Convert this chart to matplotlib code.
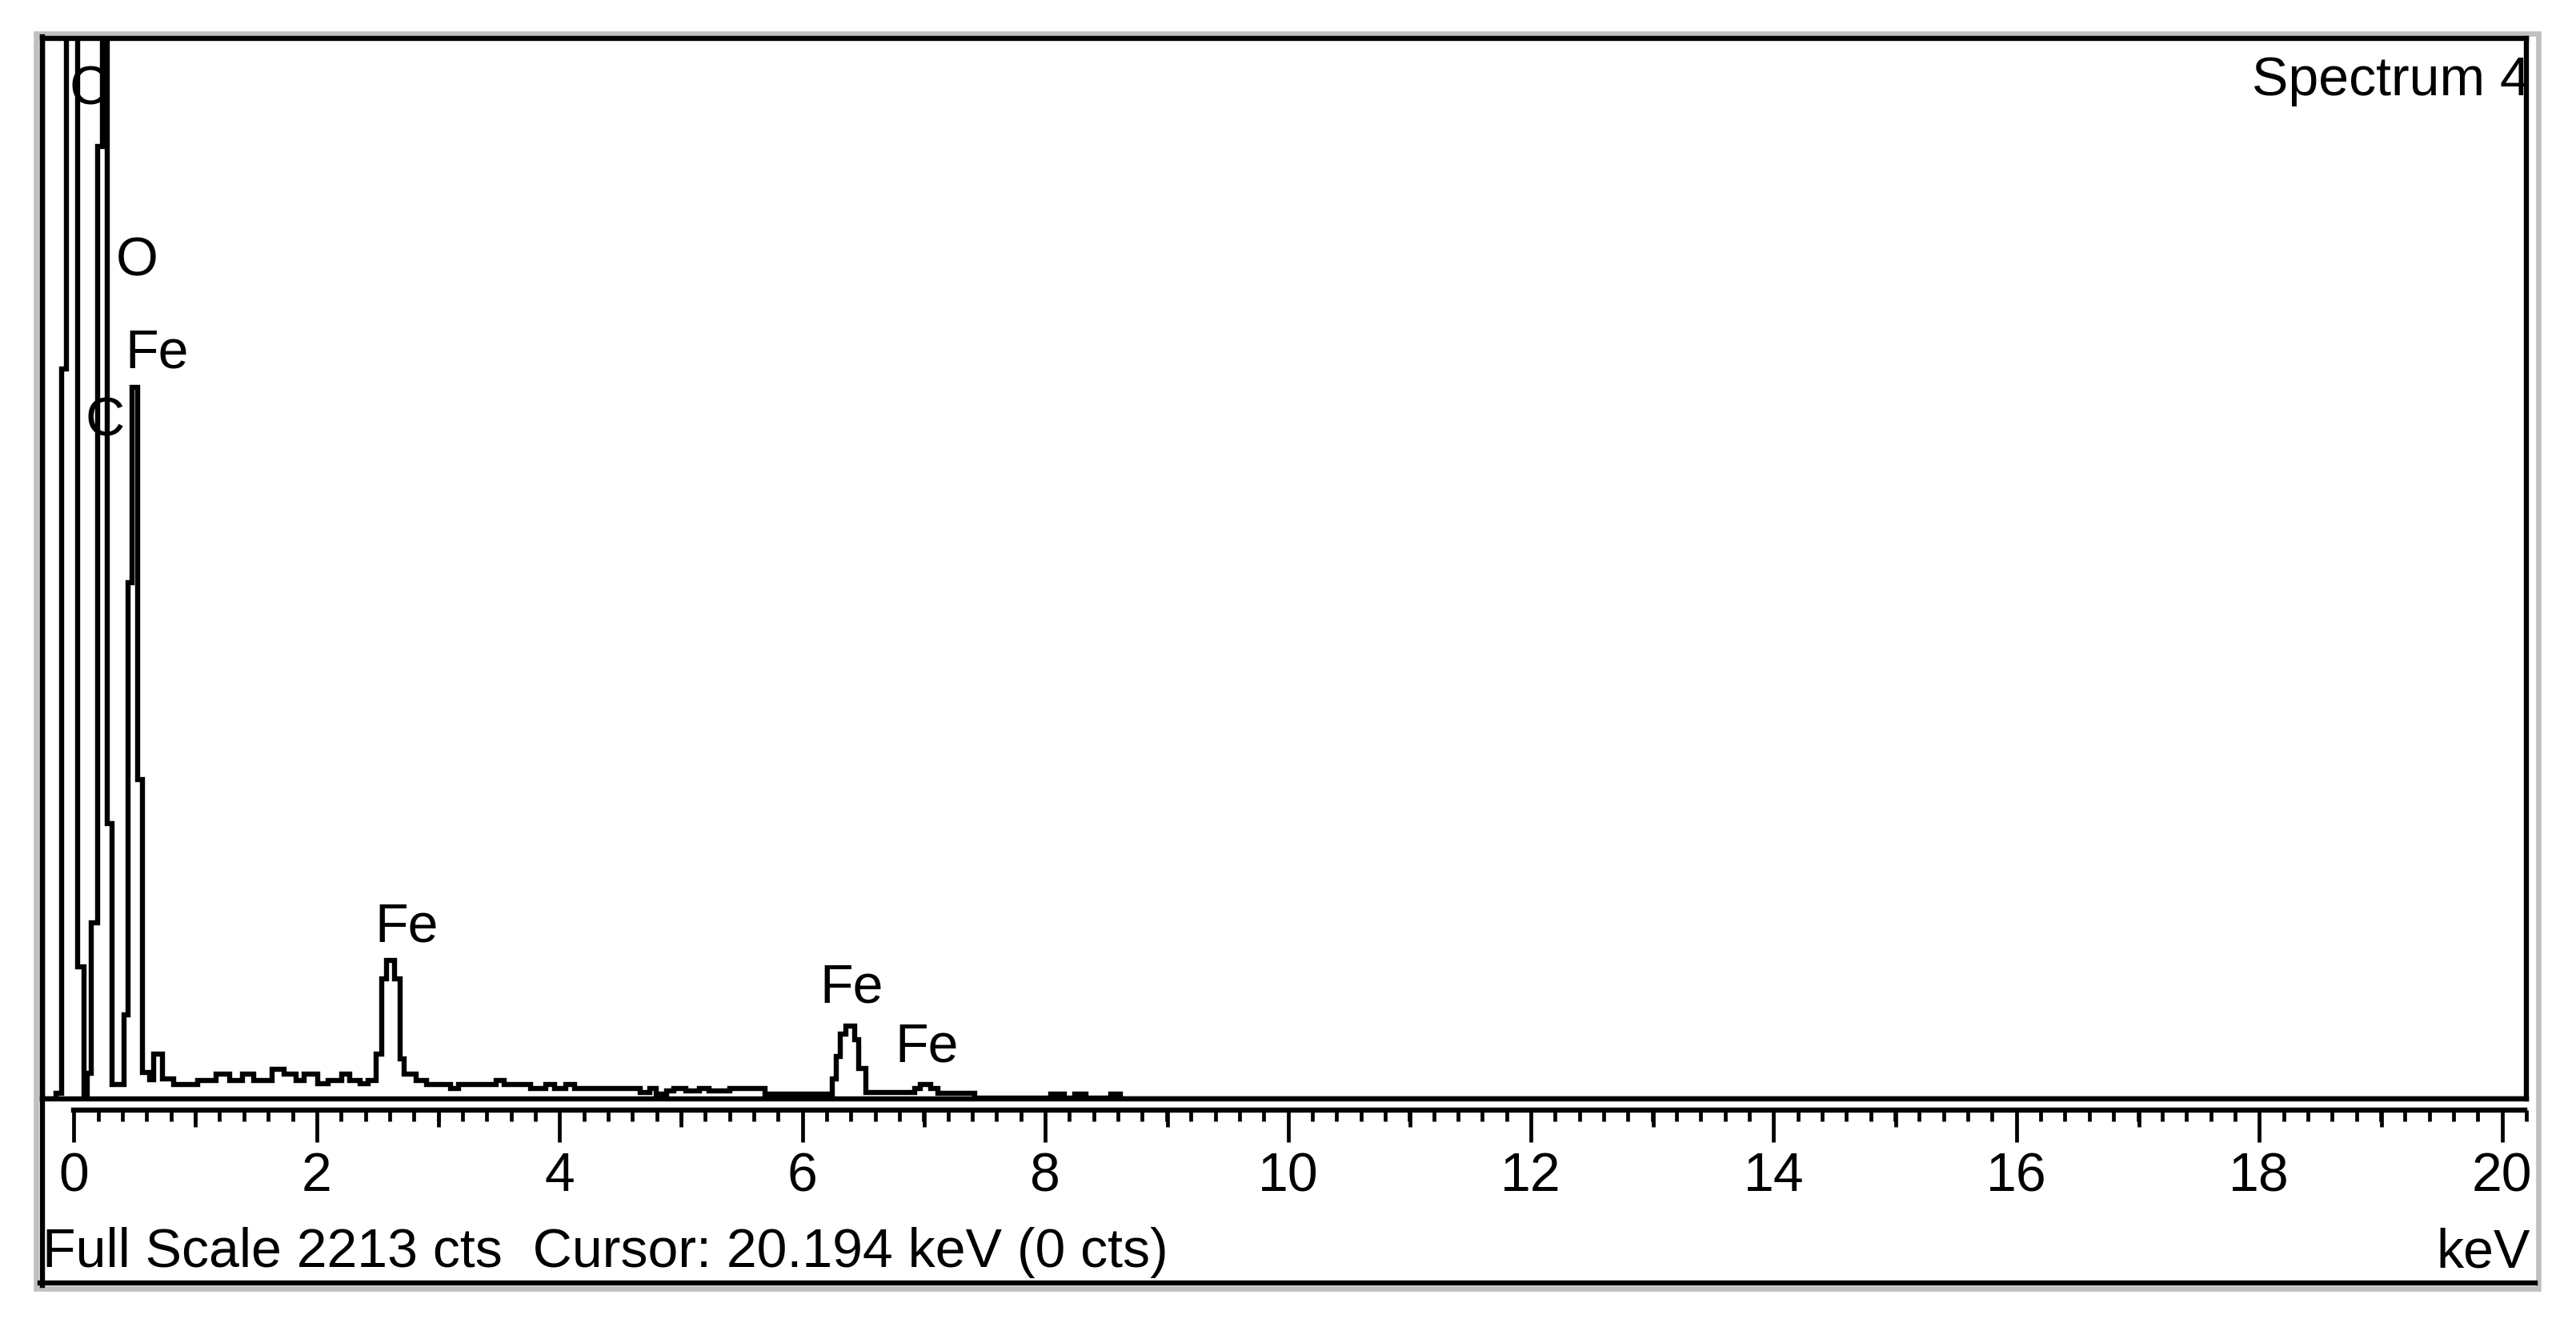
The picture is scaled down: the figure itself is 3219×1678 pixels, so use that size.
import numpy as np
import matplotlib.pyplot as plt
from matplotlib.patches import Rectangle
from matplotlib.lines import Line2D

plt.rcParams['font.family'] = ['Liberation Sans', 'DejaVu Sans']

W, H = 3219, 1678
DPI = 200

# EDS spectrum (keV edges, counts per step)
edges = [-0.26, -0.148, -0.10, -0.061, 0.028, 0.082, 0.11, 0.14, 0.192, 0.236,
         0.274, 0.312, 0.412, 0.445, 0.479, 0.524, 0.565, 0.62, 0.653, 0.73,
         0.818, 1.016, 1.169, 1.279, 1.389, 1.477, 1.630, 1.729, 1.828, 1.894,
         2.004, 2.092, 2.202, 2.267, 2.355, 2.421, 2.487, 2.531, 2.575, 2.640,
         2.685, 2.717, 2.816, 2.904, 3.101, 3.167, 3.475, 3.541, 3.760, 3.881,
         3.958, 4.046, 4.123, 4.661, 4.738, 4.793, 4.880, 4.94, 5.04, 5.15,
         5.23, 5.40, 5.69, 6.242, 6.275, 6.308, 6.352, 6.428, 6.461, 6.517,
         6.92, 6.966, 7.054, 7.109, 7.417, 8.042, 8.152, 8.24, 8.328, 8.536,
         8.613, 20.19]
counts = [0, 12, 1523, 2600, 276, 5, 53, 367, 1987, 2600,
          575, 30, 175, 1077, 1485, 666, 55, 40, 94, 41,
          30, 38, 51, 39, 51, 39, 61, 51, 39, 51,
          32, 39, 51, 39, 32, 39, 94, 250, 289, 250,
          83, 51, 39, 30, 22, 30, 38, 30, 22, 30,
          22, 30, 22, 14, 22, 10, 16, 22, 16, 22,
          16, 22, 10, 42, 88, 135, 152, 124, 63, 14,
          22, 30, 22, 11, 2, 10, 2, 10, 2, 10, 0]

full_scale = 2213
x_min, x_max = -0.26, 20.19

# peak labels: text, left energy (keV), baseline height (counts)
label_text = ['C', 'O', 'Fe', 'C', 'Fe', 'Fe', 'Fe']
label_kev = [-0.04, 0.346, 0.423, 0.093, 2.474, 6.14, 6.756]
label_cts = [2076, 1717, 1526, 1383, 329, 202, 77]

major_ticks = list(range(0, 21, 2))
mid_ticks = list(range(1, 21, 2))
minor_ticks = np.arange(0, 20.21, 0.2)

FS = 24.5
LW = 2.3


def fx(px):
    return px / W


def fy(py):
    return 1 - py / H


fig = plt.figure(figsize=(W / DPI, H / DPI), dpi=DPI)
fig.patch.set_facecolor('white')

# window frame: grey outline and black edge
fig.add_artist(Rectangle((fx(45), fy(1610)), fx(3172) - fx(45), fy(42) - fy(1610),
                         transform=fig.transFigure, fill=False,
                         edgecolor='#c0c0c0', lw=2.4, zorder=0))
fig.add_artist(Line2D([fx(53), fx(53)], [fy(46), fy(1606)], transform=fig.transFigure,
                      color='black', lw=LW, zorder=5))
fig.add_artist(Line2D([fx(50), fx(3168)], [fy(1603), fy(1603)], transform=fig.transFigure,
                      color='black', lw=LW, zorder=5))

# spectrum panel
ax = fig.add_axes([fx(53), fy(1373), fx(3157) - fx(53), fy(48) - fy(1373)])
ax.stairs(counts, edges, color='black', lw=LW, baseline=None)
ax.set_xlim(x_min, x_max)
ax.set_ylim(0, full_scale)
ax.set_xticks([])
ax.set_yticks([])
for s in ax.spines.values():
    s.set_linewidth(LW)

for t, e, c in zip(label_text, label_kev, label_cts):
    ax.text(e, c, t, ha='left', va='baseline', fontsize=FS, color='black')

# energy ruler below the panel
ruler_pos = [fx(53), fy(1387), fx(3157) - fx(53), 0.0001]
ax2 = fig.add_axes(ruler_pos)
ax2.patch.set_visible(False)
for side in ['top', 'left', 'right']:
    ax2.spines[side].set_visible(False)
ax2.spines['bottom'].set_linewidth(LW)
ax2.spines['bottom'].set_bounds(0, x_max)
ax2.set_xlim(x_min, x_max)
ax2.set_yticks([])
ax2.set_xticks(major_ticks)
ax2.set_xticklabels([str(v) for v in major_ticks])
ax2.set_xticks(minor_ticks, minor=True)
ax2.tick_params(axis='x', which='major', length=14.4, width=1.7, direction='out',
                pad=4, labelsize=FS)
ax2.tick_params(axis='x', which='minor', length=5.0, width=1.7, direction='out')

ax3 = fig.add_axes(ruler_pos)
ax3.patch.set_visible(False)
for s in ax3.spines.values():
    s.set_visible(False)
ax3.set_xlim(x_min, x_max)
ax3.set_yticks([])
ax3.set_xticks(mid_ticks)
ax3.set_xticklabels([])
ax3.tick_params(axis='x', which='major', length=7.6, width=1.7, direction='out')

fig.text(fx(53), fy(1583), 'Full Scale 2213 cts  Cursor: 20.194 keV (0 cts)',
         ha='left', va='baseline', fontsize=FS)
fig.text(fx(3162), fy(1583), 'keV', ha='right', va='baseline', fontsize=FS)
fig.text(fx(3162), fy(119), 'Spectrum 4', ha='right', va='baseline', fontsize=FS)

fig.savefig('out.png', dpi=DPI)
